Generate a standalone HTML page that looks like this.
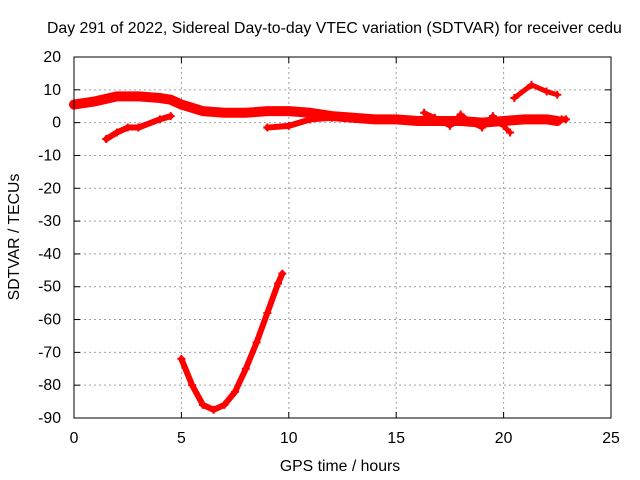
<!DOCTYPE html>
<html><head><meta charset="utf-8"><style>
body{margin:0;background:#fff}
svg{display:block;font-family:"Liberation Sans",sans-serif;font-size:15.8px}
</style></head><body>
<svg id="chart" width="640" height="480">
<text x="47" y="33" text-anchor="start">Day 291 of 2022, Sidereal Day-to-day VTEC variation (SDTVAR) for receiver cedu</text>
<text x="340" y="471" text-anchor="middle">GPS time / hours</text>
<text transform="translate(19,237) rotate(-90)" text-anchor="middle">SDTVAR / TECUs</text>
<g id="grid"></g><g id="series"></g>
<rect x="74" y="57" width="537" height="361" fill="none" stroke="#000"/>
</svg>
<script>
const xTicks=[0,5,10,15,20,25];
const yTicks=[20,10,0,-10,-20,-30,-40,-50,-60,-70,-80,-90];
const s1T=[0,1,2,3,4,4.5,5,6,7,8,9,10,11,12,13,14,15,16,17,18,19,20,21,22,22.5];
const s1V=[5.5,6.5,8,8,7.5,7,5.5,3.5,3,3,3.5,3.5,3,2,1.5,1,1,0.5,0.5,0.5,0,0.5,1,1,0.5];
const s2T=[1.5,2,2.5,3,4,4.5];
const s2V=[-5,-3,-1.5,-1.5,1,2];
const s3T=[9,10,11,12];
const s3V=[-1.5,-1,1,1.5];
const s4T=[16.3,16.8,17.5,18,18.5,19,19.5,20,20.3];
const s4V=[3,1.5,-1,2.5,0,-1.5,2,-1,-3];
const s5T=[20.5,21.3,22,22.5];
const s5V=[7.5,11.5,9.5,8.5];
const s6T=[5,5.5,6,6.5,7,7.5,8,8.5,9,9.5,9.7];
const s6V=[-72,-80,-86,-87.5,-86,-82,-75,-67,-58,-49,-46];
const s7T=[22.7,22.9];
const s7V=[1,1];
const X=t=>74+t*537/25, Y=v=>57+(20-v)*361/110;
const NS="http://www.w3.org/2000/svg";
const g=document.getElementById('grid'), sg=document.getElementById('series');
function mk(tag,at,par){const e=document.createElementNS(NS,tag);for(const k in at)e.setAttribute(k,at[k]);par.appendChild(e);return e;}
xTicks.forEach(t=>{const x=X(t);
 if(t>0&&t<25){const l=mk('line',{x1:x,x2:x,y1:57,y2:418,stroke:'#a0a0a0','stroke-dasharray':'2,3'},g);
 
 }
 mk('line',{x1:x,x2:x,y1:418,y2:412,stroke:'#000'},g);mk('line',{x1:x,x2:x,y1:57,y2:63,stroke:'#000'},g);
 const tx=mk('text',{x:x,y:443,'text-anchor':'middle'},g);tx.textContent=t;
 
 });
yTicks.forEach(v=>{const y=Y(v);
 if(v<20&&v>-90){const l=mk('line',{x1:74,x2:611,y1:y,y2:y,stroke:'#a0a0a0','stroke-dasharray':'2,3'},g);
 
 }
 mk('line',{x1:74,x2:80,y1:y,y2:y,stroke:'#000'},g);mk('line',{x1:611,x2:605,y1:y,y2:y,stroke:'#000'},g);
 const tx=mk('text',{x:61,y:y+5,'text-anchor':'end'},g);tx.textContent=v;
 
 });
function series(T,V,w){
 const p=mk('polyline',{points:T.map((t,i)=>X(t)+','+Y(V[i])).join(' '),fill:'none',stroke:'#ff0000','stroke-width':w,'stroke-linejoin':'round','stroke-linecap':'round'},sg);
 
 
 T.forEach((t,i)=>{const x=X(t),y=Y(V[i]);
  const m=mk('path',{d:`M${x-4},${y}h8M${x},${y-4}v8`,stroke:'#ff0000','stroke-width':2},sg);
  
  });
}
series(s1T,s1V,10);series(s2T,s2V,6);series(s3T,s3V,6);series(s4T,s4V,5);
series(s5T,s5V,5);series(s6T,s6V,6);series(s7T,s7V,6);
</script>
</body></html>
